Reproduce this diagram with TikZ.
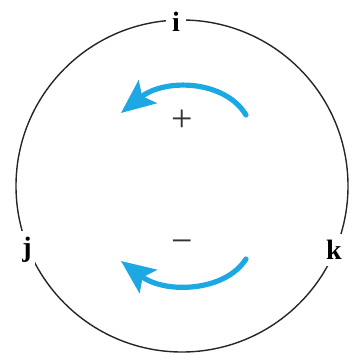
\documentclass[tikz,border=0pt]{standalone}
\usepackage{fontspec}
\setmainfont{Liberation Serif}
\usetikzlibrary{arrows.meta}
\definecolor{arrowblue}{RGB}{28,168,226}
\begin{document}
\begin{tikzpicture}[x=1pt,y=-1pt,
  lbl/.style={fill=white,inner sep=3pt,font=\fontsize{28}{28}\selectfont\bfseries},
  sgn/.style={inner sep=0pt,text=black!80,font=\fontsize{38}{38}\selectfont},
  rot/.style={draw=arrowblue,line width=5.2pt,line cap=round,-{Stealth[length=34pt,width=29pt,inset=7pt]}}]
\useasboundingbox (0,0) rectangle (351,356);
\draw[line width=1.4pt,black!85] (182,186) circle[radius=166];
\node[lbl,inner xsep=6pt] (i) at (176,22) {i};
\node[lbl,inner ysep=6pt] (j) at (27,250) {j};
\node[lbl,inner ysep=6pt] (k) at (334,250) {k};
\node[sgn] (plus) at (182,121) {+};
\node[sgn] (minus) at (182,247) {\textminus};
\coordinate (a1s) at (246,115);
\coordinate (a1e) at (121,113);
\coordinate (a2s) at (246,259);
\coordinate (a2e) at (121,261);
\draw[rot] (a1s) .. controls (225,80) and (165,78) .. (a1e);
\draw[rot] (a2s) .. controls (225,292) and (165,294) .. (a2e);
\end{tikzpicture}
\end{document}
